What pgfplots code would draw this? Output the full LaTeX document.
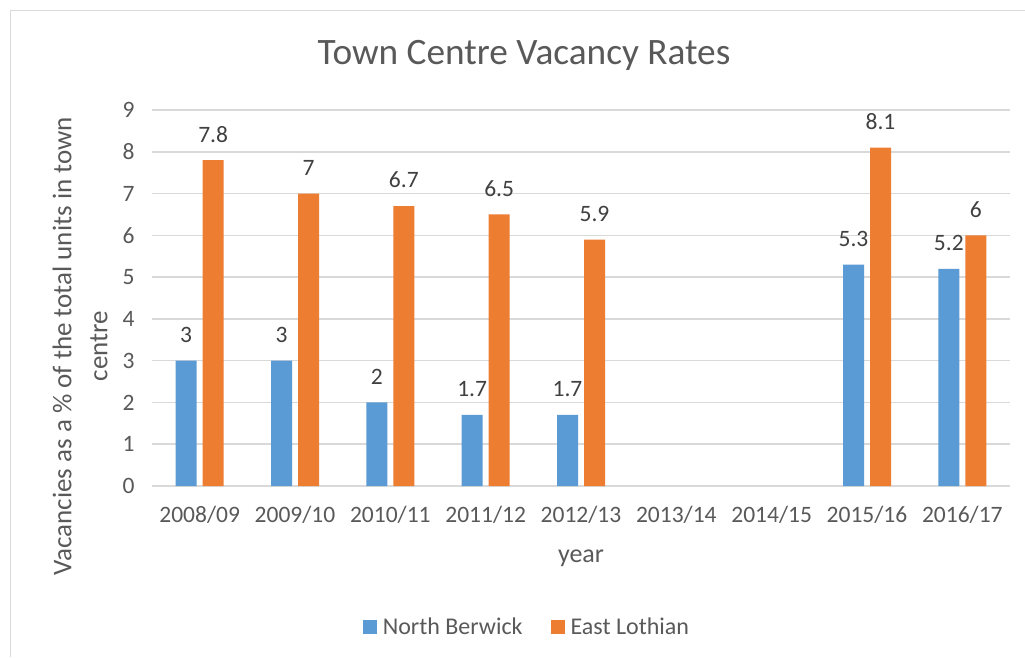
\documentclass[border=0pt]{standalone}
\usepackage{fontspec}
\setmainfont{Carlito}
\usepackage{pgfplots}
\pgfplotsset{compat=1.18}
\definecolor{nb}{HTML}{5B9BD5}
\definecolor{el}{HTML}{ED7D31}
\definecolor{txt}{HTML}{595959}
\definecolor{lbl}{HTML}{404040}
\definecolor{grd}{HTML}{D9D9D9}
\begin{document}
\begin{tikzpicture}[x=1pt,y=1pt]
\useasboundingbox (0,0) rectangle (1025,657);
\fill[white] (0,0) rectangle (1025,657);
\draw[grd, line width=1.5pt] (10.5,0) -- (10.5,646.5) -- (1025,646.5);
\begin{axis}[
  at={(152pt,171pt)}, anchor=south west,
  scale only axis, width=858pt, height=376pt,
  xmin=-0.5, xmax=8.5, ymin=0, ymax=9,
  ybar=6pt, bar width=21pt,
  xtick={0,...,8},
  xticklabels={2008/09,2009/10,2010/11,2011/12,2012/13,2013/14,2014/15,2015/16,2016/17},
  ytick={0,...,9},
  ymajorgrids, grid style={grd, line width=1.5pt},
  axis line style={draw=none},
  major tick length=0pt,
  tick label style={font=\fontsize{23.5}{28}\selectfont, text=txt},
  yticklabel style={xshift=-14pt},
  xticklabel style={yshift=-17pt},
  /pgf/number format/assume math mode=true,
  title={Town Centre Vacancy Rates},
  title style={font=\fontsize{37.3}{42}\selectfont, text=txt, at={(rel axis cs:0.4336,1.13)}, anchor=center},
  xlabel={year},
  xlabel style={font=\fontsize{26}{30}\selectfont, text=txt, at={(rel axis cs:0.5,-0.192)}, anchor=center},
  ylabel={Vacancies as a \% of the total units in town\\centre},
  ylabel style={font=\fontsize{27}{36}\selectfont, text=txt, align=center, at={(rel axis cs:-0.0839,0.372)}, anchor=center, rotate=0},
  nodes near coords,
  every node near coord/.append style={font=\fontsize{23.5}{28}\selectfont, text=lbl, anchor=center, yshift=26pt},
  legend columns=2,
  legend style={draw=none, fill=none, at={(rel axis cs:0.437,-0.375)}, anchor=center,
    font=\fontsize{24}{28}\selectfont, text=txt,
    /tikz/every even column/.append style={column sep=26pt}},
  legend image code/.code={\fill[#1] (0pt,-7pt) rectangle (14pt,7pt); \path (18pt,0pt);},
]
\addplot[fill=nb, draw=none] coordinates {(0,3) (1,3) (2,2) (3,1.7) (4,1.7) (7,5.3) (8,5.2)};
\addplot[fill=el, draw=none] coordinates {(0,7.8) (1,7) (2,6.7) (3,6.5) (4,5.9) (7,8.1) (8,6)};
\legend{North Berwick, East Lothian}
\end{axis}
\end{tikzpicture}
\end{document}
